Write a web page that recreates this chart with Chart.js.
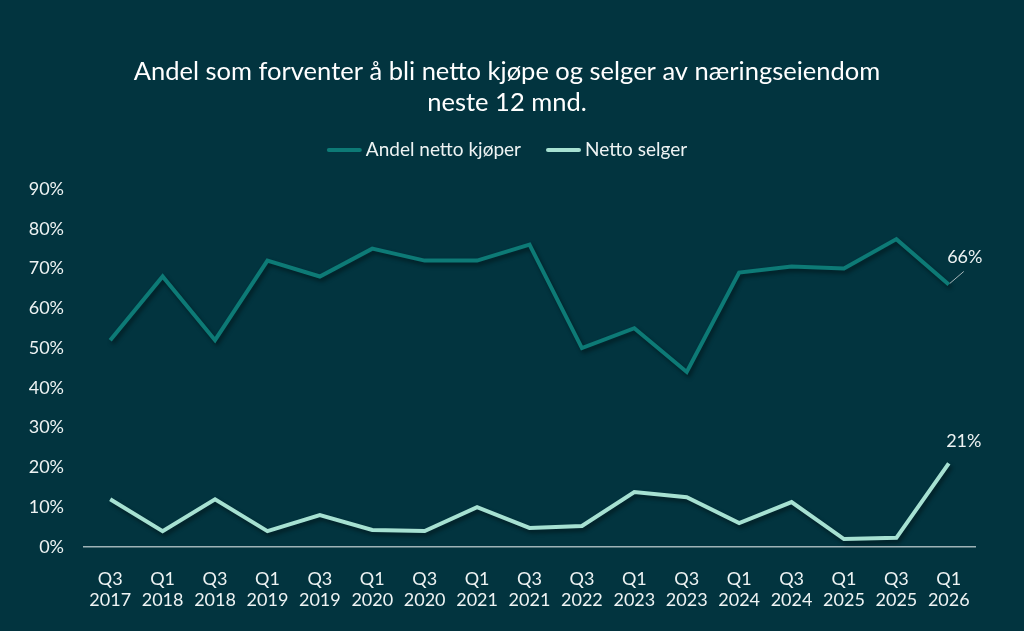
<!DOCTYPE html>
<html>
<head>
    <meta charset="utf-8">
    <title>Andel netto kjøpere og selgere</title>
    <script src="https://cdn.jsdelivr.net/npm/chart.js"></script>
    <style>
        html, body { margin: 0; padding: 0; background: #02343f; }
        #wrap { width: 1024px; height: 631px; }
    </style>
</head>
<body>
    <div id="wrap"><canvas id="chart"></canvas></div>

    <script>
        // kvartaler (to linjer per etikett)
        const quarters = [
            ['Q3', '2017'], ['Q1', '2018'], ['Q3', '2018'], ['Q1', '2019'], ['Q3', '2019'],
            ['Q1', '2020'], ['Q3', '2020'], ['Q1', '2021'], ['Q3', '2021'], ['Q3', '2022'],
            ['Q1', '2023'], ['Q3', '2023'], ['Q1', '2024'], ['Q3', '2024'], ['Q1', '2025'],
            ['Q3', '2025'], ['Q1', '2026']
        ];
        const nettoKjoper = [52, 68, 52, 72, 68, 75, 72, 72, 76, 50, 55, 44, 69, 70.5, 70, 77.4, 66];
        const nettoSelger = [12, 4, 12, 4, 8, 4.3, 4, 10, 4.8, 5.3, 13.8, 12.5, 6, 11.3, 2, 2.3, 21];
        const yTicks = [0, 10, 20, 30, 40, 50, 60, 70, 80, 90];
        const titleLines = ['Andel som forventer å bli netto kjøpe og selger av næringseiendom', 'neste 12 mnd.'];

        const textColor = '#eef3f3';
        const darkLine = '#0d7a76';
        const lightLine = '#a6e1d2';
        const fontFamily = 'Lato, "Open Sans", sans-serif';
        const centerX = 507;

        // skygge under linjene
        const shadowPlugin = {
            id: 'lineShadow',
            beforeDatasetDraw(chart) {
                const ctx = chart.ctx;
                ctx.save();
                ctx.shadowColor = 'rgba(0,0,0,0.45)';
                ctx.shadowBlur = 4;
                ctx.shadowOffsetX = 2;
                ctx.shadowOffsetY = 3;
            },
            afterDatasetDraw(chart) {
                chart.ctx.restore();
            }
        };

        // tittel og legende tegnet selv, sentrert over hele bildet
        const headerPlugin = {
            id: 'header',
            afterDraw(chart) {
                const ctx = chart.ctx;
                ctx.save();
                ctx.fillStyle = '#ffffff';
                ctx.textAlign = 'center';
                ctx.textBaseline = 'middle';
                ctx.font = '25.5px ' + fontFamily;
                ctx.fillText(titleLines[0], centerX, 72);
                ctx.fillText(titleLines[1], centerX, 103);

                // legende
                ctx.font = '19px ' + fontFamily;
                ctx.textAlign = 'left';
                const items = chart.data.datasets.map(ds => ({
                    text: ds.label, color: ds.borderColor, w: ctx.measureText(ds.label).width
                }));
                const sw = 35, gap = 4, between = 25;
                let total = 0;
                items.forEach((it, i) => { total += sw + gap + it.w + (i ? between : 0); });
                let x = centerX - total / 2;
                const y = 150;
                items.forEach((it, i) => {
                    if (i) x += between;
                    ctx.strokeStyle = it.color;
                    ctx.lineWidth = 4;
                    ctx.lineCap = 'round';
                    ctx.beginPath();
                    ctx.moveTo(x + 2, y);
                    ctx.lineTo(x + sw - 2, y);
                    ctx.stroke();
                    x += sw + gap;
                    ctx.fillStyle = textColor;
                    ctx.fillText(it.text, x, y);
                    x += it.w;
                });
                ctx.restore();
            }
        };

        // etiketter på siste punkt
        const lastLabelPlugin = {
            id: 'lastLabel',
            afterDatasetsDraw(chart) {
                const ctx = chart.ctx;
                const xs = chart.scales.x, ys = chart.scales.y;
                const last = quarters.length - 1;
                ctx.save();
                ctx.font = '18px ' + fontFamily;
                ctx.fillStyle = textColor;
                ctx.textAlign = 'center';
                ctx.textBaseline = 'middle';

                // Andel netto kjøper, med ledelinje
                const x1 = xs.getPixelForValue(last);
                const y1 = ys.getPixelForValue(nettoKjoper[last]);
                ctx.strokeStyle = '#a9b8bb';
                ctx.lineWidth = 1;
                ctx.beginPath();
                ctx.moveTo(x1 + 1, y1 - 1);
                ctx.lineTo(x1 + 15, y1 - 13);
                ctx.stroke();
                ctx.fillText(Math.round(nettoKjoper[last]) + '%', x1 + 16, y1 - 27);

                // Netto selger
                const x2 = xs.getPixelForValue(last);
                const y2 = ys.getPixelForValue(nettoSelger[last]);
                ctx.fillText(Math.round(nettoSelger[last]) + '%', x2 + 15, y2 - 22);
                ctx.restore();
            }
        };

        const ctx = document.getElementById('chart').getContext('2d');
        new Chart(ctx, {
            type: 'line',
            data: {
                labels: quarters,
                datasets: [
                    {
                        label: 'Andel netto kjøper',
                        data: nettoKjoper,
                        borderColor: darkLine,
                        backgroundColor: darkLine,
                        borderWidth: 4,
                        pointRadius: 0,
                        tension: 0,
                        fill: false
                    },
                    {
                        label: 'Netto selger',
                        data: nettoSelger,
                        borderColor: lightLine,
                        backgroundColor: lightLine,
                        borderWidth: 4,
                        pointRadius: 0,
                        tension: 0,
                        fill: false
                    }
                ]
            },
            plugins: [shadowPlugin, headerPlugin, lastLabelPlugin],
            options: {
                responsive: true,
                maintainAspectRatio: false,
                animation: false,
                layout: {
                    padding: { left: 28, right: 49, top: 189, bottom: 17 }
                },
                scales: {
                    x: {
                        offset: true,
                        grid: { display: false, drawTicks: false },
                        border: { display: true, color: '#9fb3b7', width: 1.5 },
                        afterFit(scale) {
                            scale.height = 67;
                        },
                        ticks: {
                            color: textColor,
                            font: { family: fontFamily, size: 18, lineHeight: 1.2 },
                            padding: 21,
                            maxRotation: 0,
                            autoSkip: false
                        }
                    },
                    y: {
                        min: 0,
                        max: 90,
                        afterBuildTicks(scale) {
                            scale.ticks = yTicks.map(v => ({ value: v }));
                        },
                        afterFit(scale) {
                            scale.width = 56;
                        },
                        grid: { display: false, drawTicks: false },
                        border: { display: false },
                        ticks: {
                            color: textColor,
                            font: { family: fontFamily, size: 18 },
                            padding: 20,
                            callback: v => v + '%'
                        }
                    }
                },
                plugins: {
                    title: { display: false },
                    legend: { display: false },
                    tooltip: { enabled: false }
                }
            }
        });
    </script>
</body>
</html>
